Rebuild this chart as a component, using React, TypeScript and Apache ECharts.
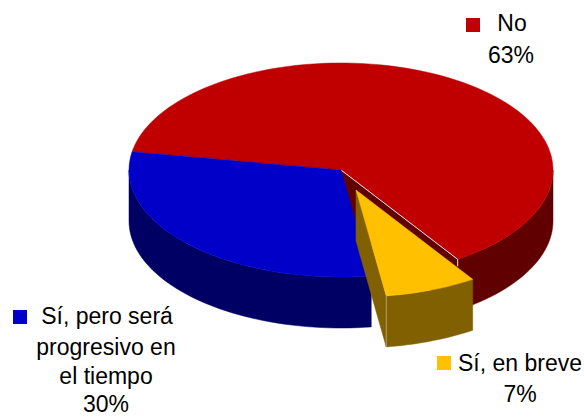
import React, { useEffect, useRef } from "react";
import * as echarts from "echarts";

const categories = ["No", "Sí, en breve", "Sí, pero será progresivo en el tiempo"];
const values = [63, 7, 30];
const labelLines = [["No"], ["Sí, en breve"], ["Sí, pero será", "progresivo en", "el tiempo"]];
const topColors = ["#C00000", "#FFC000", "#0000C8"];
const sideColors = ["#600000", "#806000", "#000064"];

const WIDTH = 584;
const HEIGHT = 417;
const CX = 341;
const CY = 170;
const RX = 212;
const RY = 107;
const DEPTH = 51;
const START_DEG = 189.8;
const FONT = '"Liberation Sans", Arial, sans-serif';
const FONT_SIZE = 23;
const explode = [
  [0, 0],
  [15, 20],
  [0, 0],
];
const drawOrder = [0, 2, 1];
const markerBoxes = [
  [466, 18],
  [437, 356],
  [13, 310],
];
const lineLayouts = [
  [[512, 23], [511, 55]],
  [[520, 363], [520, 394]],
  [[107, 316], [106, 347], [106, 376], [106, 404]],
];

const total = values.reduce((a, b) => a + b, 0);
const spans: [number, number][] = [];
{
  let acc = START_DEG;
  values.forEach((v) => {
    const sweep = (v / total) * 360;
    spans.push([acc, acc + sweep]);
    acc += sweep;
  });
}

function arc(cx: number, cy: number, from: number, to: number): number[][] {
  const pts: number[][] = [];
  const n = Math.max(2, Math.ceil((to - from) / 2));
  for (let i = 0; i <= n; i++) {
    const t = ((from + ((to - from) * i) / n) * Math.PI) / 180;
    pts.push([cx + RX * Math.cos(t), cy + RY * Math.sin(t)]);
  }
  return pts;
}

function poly(points: number[][], fill: string) {
  return {
    type: "polygon",
    shape: { points },
    style: { fill, stroke: fill, lineWidth: 0.5 },
    silent: true,
  };
}

function wallArcs(from: number, to: number): [number, number][] {
  // front-facing part of the rim: param angles within [0, 180] modulo 360
  const out: [number, number][] = [];
  for (const k of [0, 360]) {
    const a = Math.max(from, k);
    const b = Math.min(to, k + 180);
    if (b > a) out.push([a, b]);
  }
  return out;
}

function renderSlice(_: any, api: any) {
  const idx = drawOrder[api.value(0)];
  const [from, to] = spans[idx];
  const cx = CX + explode[idx][0];
  const cy = CY + explode[idx][1];
  const top = topColors[idx];
  const side = sideColors[idx];
  const children: any[] = [];
  const down = (p: number[]) => [p[0], p[1] + DEPTH];

  if (idx !== 2) {
    const cut = arc(cx, cy, to, to)[0];
    children.push(poly([[cx, cy], cut, down(cut), [cx, cy + DEPTH]], side));
  }
  wallArcs(from, to).forEach(([a, b]) => {
    const rim = arc(cx, cy, a, b);
    children.push(poly([...rim, ...rim.slice().reverse().map(down)], side));
  });
  children.push(poly([[cx, cy], ...arc(cx, cy, from, to)], top));
  if (idx === 0) {
    const end = arc(cx, cy, to, to)[0];
    children.push({
      type: "polyline",
      shape: { points: [[cx, cy], end, [end[0], end[1] + 7]] },
      style: { stroke: "#E8E8E8", lineWidth: 1, fill: "none" },
      silent: true,
    });
  }
  if (idx === 1) {
    const corner = arc(cx, cy, to, to)[0];
    children.push({
      type: "line",
      shape: { x1: corner[0], y1: corner[1], x2: corner[0], y2: corner[1] + DEPTH },
      style: { stroke: "#B0A070", lineWidth: 1 },
      silent: true,
    });
  }
  return { type: "group", children };
}

export default function App() {
  const ref = useRef<HTMLDivElement>(null);
  useEffect(() => {
    document.body.style.margin = "0";
    const chart = echarts.init(ref.current!, undefined, { renderer: "svg" });
    const graphics: any[] = [];
    categories.forEach((_, i) => {
      const [mx, my] = markerBoxes[i];
      graphics.push({
        type: "rect",
        shape: { x: mx, y: my, width: 14, height: 14 },
        style: { fill: topColors[i] },
        silent: true,
      });
      [...labelLines[i], `${values[i]}%`].forEach((line, j) => {
        const [x, y] = lineLayouts[i][j];
        graphics.push({
          type: "text",
          x,
          y,
          style: {
            text: line,
            fill: "#000000",
            font: `${FONT_SIZE}px ${FONT}`,
            textAlign: "center",
            textVerticalAlign: "middle",
          },
          silent: true,
        });
      });
    });
    chart.setOption({
      animation: false,
      backgroundColor: "#FFFFFF",
      graphic: graphics,
      series: [
        {
          type: "custom",
          coordinateSystem: "none",
          renderItem: renderSlice,
          data: drawOrder.map((_, i) => [i]),
          silent: true,
        },
      ],
    });
    return () => chart.dispose();
  }, []);
  return <div ref={ref} style={{ width: WIDTH, height: HEIGHT }} />;
}
